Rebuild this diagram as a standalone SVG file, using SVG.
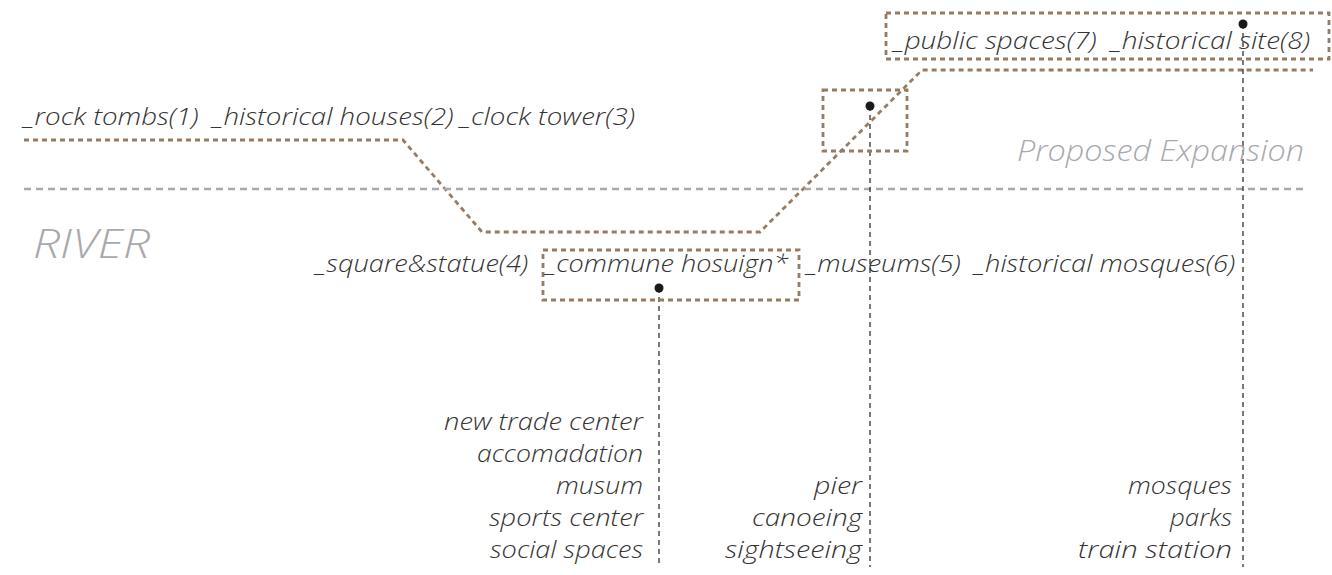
<svg xmlns="http://www.w3.org/2000/svg" width="1332" height="575" viewBox="0 0 1332 575">
<style>
text{font-family:"Open Sans","Lato","Liberation Sans",sans-serif;font-style:italic;font-weight:300;fill:#333;white-space:pre}
.lbl{font-size:24px}
.lst{font-size:24px;text-anchor:end}
.grey{fill:#a8a9ad}
.box{fill:none;stroke:#977b63;stroke-width:2.8;stroke-dasharray:5 4}
.route{fill:none;stroke:#977b63;stroke-width:2.8;stroke-dasharray:5 4}
.river{fill:none;stroke:#a8a9ad;stroke-width:2.5;stroke-dasharray:7 5}
.lead{fill:none;stroke:#222;stroke-width:1.2;stroke-dasharray:5 4}
.dot{fill:#1a1a1a}
</style>
<rect width="1332" height="575" fill="#fff"/>
<g id="connectors">
<path class="route" d="M24,140 H403 L482,232 H760 L922,70 H1313"/>
<path class="river" d="M24,189 H1308"/>
<path class="lead" d="M659,288 V567"/>
<path class="lead" d="M870,106 V567"/>
<path class="lead" d="M1243,24 V567"/>
</g>
<g id="labels-left">
<text class="lbl" x="24" y="125" textLength="611" lengthAdjust="spacingAndGlyphs">_rock tombs(1)  _historical houses(2) _clock tower(3)</text>
</g>
<g id="river-label">
<text class="grey" x="33" y="258" font-size="41" textLength="117" lengthAdjust="spacingAndGlyphs">RIVER</text>
</g>
<g id="expansion-label">
<text class="grey" x="1304" y="161" font-size="30" text-anchor="end" textLength="287" lengthAdjust="spacingAndGlyphs">Proposed Expansion</text>
</g>
<g id="square-statue">
<text class="lbl" x="316" y="272" textLength="212" lengthAdjust="spacingAndGlyphs">_square&amp;statue(4)</text>
</g>
<g id="commune-housing">
<rect class="box" x="543" y="250" width="256" height="50"/>
<text class="lbl" x="546" y="272" textLength="242" lengthAdjust="spacingAndGlyphs">_commune hosuign*</text>
<circle class="dot" cx="659" cy="288" r="4.5"/>
</g>
<g id="museums-mosques">
<text class="lbl" x="807" y="272" textLength="428" lengthAdjust="spacingAndGlyphs">_museums(5)  _historical mosques(6)</text>
</g>
<g id="pier-node">
<rect class="box" x="823" y="90" width="84" height="61"/>
<circle class="dot" cx="870" cy="106" r="4.5"/>
</g>
<g id="public-historical">
<rect class="box" x="886" y="13" width="443" height="46"/>
<text class="lbl" x="894" y="49" textLength="416" lengthAdjust="spacingAndGlyphs">_public spaces(7)  _historical site(8)</text>
<circle class="dot" cx="1243" cy="24" r="4.5"/>
</g>
<g id="list-commune">
<text class="lst" x="643" y="430" textLength="199" lengthAdjust="spacingAndGlyphs">new trade center</text>
<text class="lst" x="643" y="462" textLength="166" lengthAdjust="spacingAndGlyphs">accomadation</text>
<text class="lst" x="643" y="494" textLength="87" lengthAdjust="spacingAndGlyphs">musum</text>
<text class="lst" x="643" y="526" textLength="154" lengthAdjust="spacingAndGlyphs">sports center</text>
<text class="lst" x="643" y="558" textLength="153" lengthAdjust="spacingAndGlyphs">social spaces</text>
</g>
<g id="list-pier">
<text class="lst" x="862" y="494" textLength="48" lengthAdjust="spacingAndGlyphs">pier</text>
<text class="lst" x="862" y="526" textLength="110" lengthAdjust="spacingAndGlyphs">canoeing</text>
<text class="lst" x="862" y="558" textLength="137" lengthAdjust="spacingAndGlyphs">sightseeing</text>
</g>
<g id="list-historical">
<text class="lst" x="1232" y="494" textLength="104" lengthAdjust="spacingAndGlyphs">mosques</text>
<text class="lst" x="1232" y="526" textLength="62" lengthAdjust="spacingAndGlyphs">parks</text>
<text class="lst" x="1232" y="558" textLength="154" lengthAdjust="spacingAndGlyphs">train station</text>
</g>
</svg>
